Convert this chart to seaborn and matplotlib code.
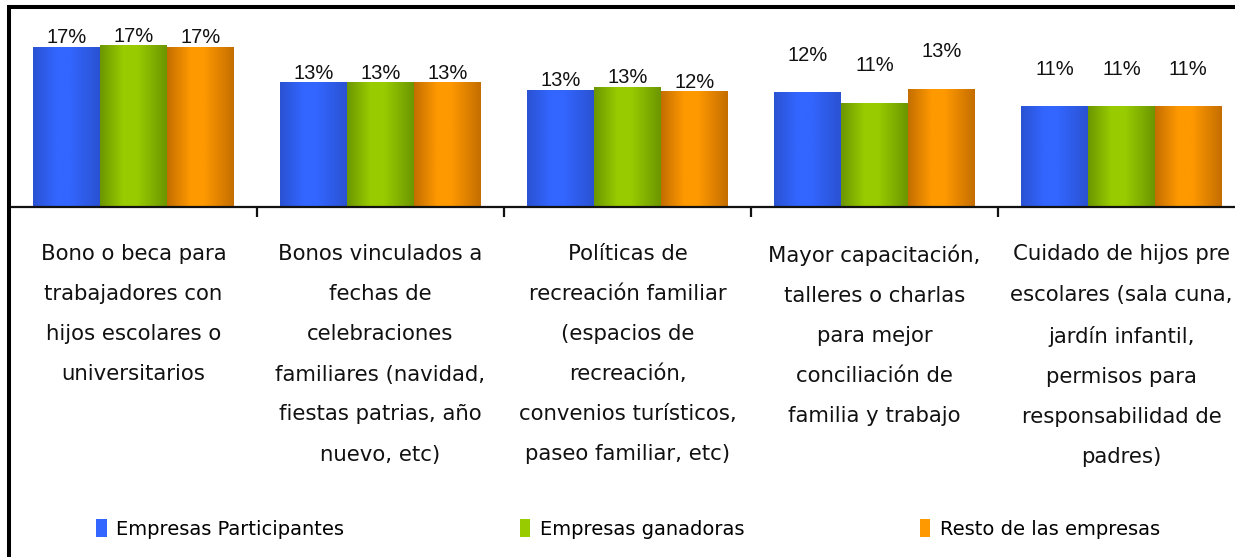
# Import libraries
import numpy as np
import pandas as pd
import matplotlib
matplotlib.use("Agg")
import matplotlib.pyplot as plt
from matplotlib.colors import LinearSegmentedColormap
from matplotlib.patches import Rectangle
import seaborn as sns

# Data (percent)
categories = [
    "Bono o beca para\ntrabajadores con\nhijos escolares o\nuniversitarios",
    "Bonos vinculados a\nfechas de\ncelebraciones\nfamiliares (navidad,\nfiestas patrias, año\nnuevo, etc)",
    "Políticas de\nrecreación familiar\n(espacios de\nrecreación,\nconvenios turísticos,\npaseo familiar, etc)",
    "Mayor capacitación,\ntalleres o charlas\npara mejor\nconciliación de\nfamilia y trabajo",
    "Cuidado de hijos pre\nescolares (sala cuna,\njardín infantil,\npermisos para\nresponsabilidad de\npadres)",
]
series = ["Empresas Participantes", "Empresas ganadoras", "Resto de las empresas"]
participantes = [17.2, 13.4, 12.6, 12.3, 10.8]
ganadoras = [17.4, 13.4, 12.9, 11.2, 10.8]
resto = [17.2, 13.4, 12.4, 12.7, 10.8]

# Styling
bright = ["#3366FF", "#99CC00", "#FF9900"]
dark = ["#2A52D2", "#6C9600", "#C46E00"]
label_pad = [0, 0, 0, 20, 20]  # Excel put the labels of the last groups higher

df = pd.DataFrame({
    "Categoria": categories * 3,
    "Serie": [s for s in series for _ in categories],
    "Valor": participantes + ganadoras + resto,
})

fig = plt.figure(figsize=(12.35, 5.57), dpi=100)
ax = fig.add_axes([10 / 1235, 1 - 207 / 557, 1.0, 199 / 557])

sns.barplot(data=df, x="Categoria", y="Valor", hue="Serie", order=categories,
            hue_order=series, palette=bright, width=0.81, gap=0, legend=False, ax=ax)

ymax = 199 / 9.28

# gradient fill on each bar (dark edges, bright middle)
t = np.linspace(0, 1, 200)
shade = np.interp(t, [0, 0.35, 0.55, 1], [0, 1, 1, 0])
for i, cont in enumerate(ax.containers):
    cmap = LinearSegmentedColormap.from_list("g%d" % i, [dark[i], bright[i]])
    for j, bar in enumerate(cont):
        x0, w, h = bar.get_x(), bar.get_width(), bar.get_height()
        bar.set_facecolor("none")
        bar.set_edgecolor("none")
        ax.imshow(shade[np.newaxis, :], extent=[x0, x0 + w, 0, h], aspect="auto",
                  cmap=cmap, vmin=0, vmax=1, zorder=2)
        ax.annotate(f"{h:.0f}%", (x0 + w / 2, h), xytext=(0, label_pad[j]),
                    textcoords="offset points", ha="center", va="bottom",
                    fontsize=14.5, family="Liberation Sans", color="#111111")

ax.set_xlim(-0.5, 4.5)
ax.set_ylim(0, ymax)

# axes look
for side in ["top", "right", "left"]:
    ax.spines[side].set_visible(False)
ax.spines["bottom"].set_linewidth(1.6)
ax.spines["bottom"].set_color("#111111")
ax.set_yticks([])
ax.set_xlabel("")
ax.set_ylabel("")
ax.set_xticks(range(len(categories)))
ax.set_xticklabels(categories, fontsize=15.3, family="DejaVu Sans", linespacing=2.25,
                   color="#111111")
ax.tick_params(axis="x", which="major", length=0, pad=27)
ax.set_xticks(np.arange(0.5, len(categories) - 0.5, 1), minor=True)
ax.tick_params(axis="x", which="minor", length=7, width=1.6, direction="out", color="#111111")
ax.set_facecolor("white")

# outer frame of the chart area
fig.add_artist(Rectangle((9 / 1235, -0.2), 1.2, 1.2 - 7 / 557, transform=fig.transFigure,
                         fill=False, edgecolor="black", linewidth=2.9))

# legend
handles = [Rectangle((0, 0), 1, 1, facecolor=c, edgecolor="none") for c in bright]
fig.legend(handles, series, loc="center left", bbox_to_anchor=(0.0713, 0.05, 0.8745, 0.0),
           mode="expand", ncol=3, frameon=False, fontsize=14, handlelength=0.55,
           handleheight=1.0, handletextpad=0.5, borderaxespad=0)

plt.savefig("out.png", dpi=100)
